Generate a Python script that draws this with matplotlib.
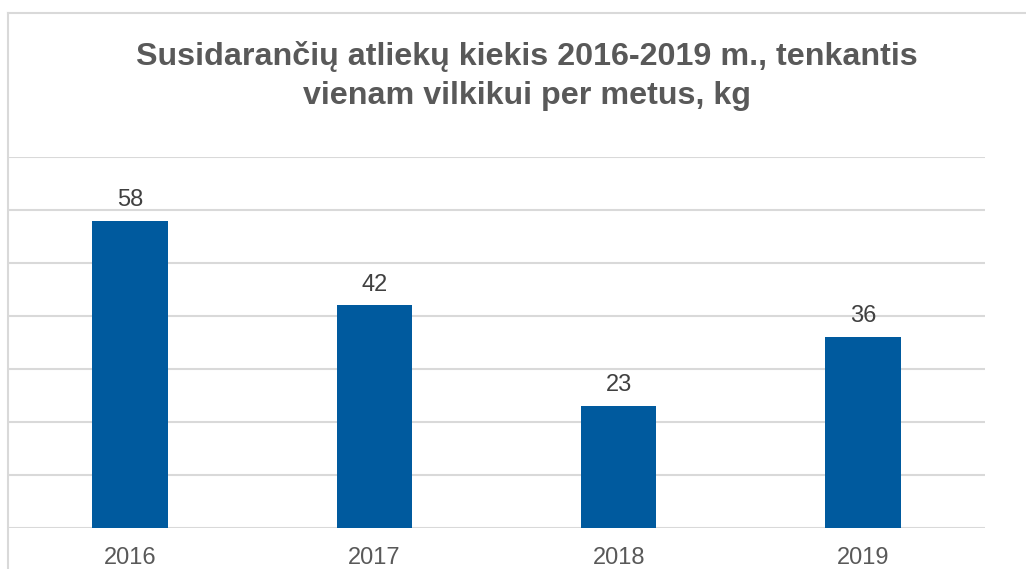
import matplotlib.pyplot as plt
from matplotlib.lines import Line2D

years = ['2016', '2017', '2018', '2019']
waste_kg = [58, 42, 23, 36]

plt.rcParams['font.family'] = ['Liberation Sans', 'DejaVu Sans']

fig = plt.figure(figsize=(10.26, 5.69), dpi=100)
ax = fig.add_axes([8/1026, 1-528/569, 977/1026, 371/569])

bars = ax.bar(range(len(years)), waste_kg, width=0.31, color='#005a9e', zorder=3)
for b, v in zip(bars, waste_kg):
    ax.annotate(str(v), (b.get_x() + b.get_width()/2, v), xytext=(0, 7),
                textcoords='offset points', ha='center', va='bottom',
                fontsize=17, color='#404040')

ax.set_xlim(-0.5, len(years) - 0.5)
ax.set_ylim(0, 70)
ax.set_yticks(range(0, 71, 10))
ax.set_yticklabels([])
ax.tick_params(axis='y', length=0)
ax.set_xticks(range(len(years)))
ax.set_xticklabels(years, fontsize=17, color='#595959')
ax.tick_params(axis='x', length=0, pad=14)
ax.grid(axis='y', color='#d9d9d9', linewidth=1.5, zorder=0)
for s in ax.spines.values():
    s.set_visible(False)

# chart area border (top and left visible)
fig.add_artist(Line2D([8/1026, 1], [1-13/569, 1-13/569], color='#d9d9d9', lw=1.5,
                      transform=fig.transFigure))
fig.add_artist(Line2D([8/1026, 8/1026], [0, 1-13/569], color='#d9d9d9', lw=1.5,
                      transform=fig.transFigure))

fig.text(527/1026, 1-76/569, 'Susidarančių atliekų kiekis 2016-2019 m., tenkantis\nvienam vilkikui per metus, kg',
         ha='center', va='center', fontsize=23.2, fontweight='bold', color='#595959',
         linespacing=1.35)

fig.savefig('out.png', dpi=100)
